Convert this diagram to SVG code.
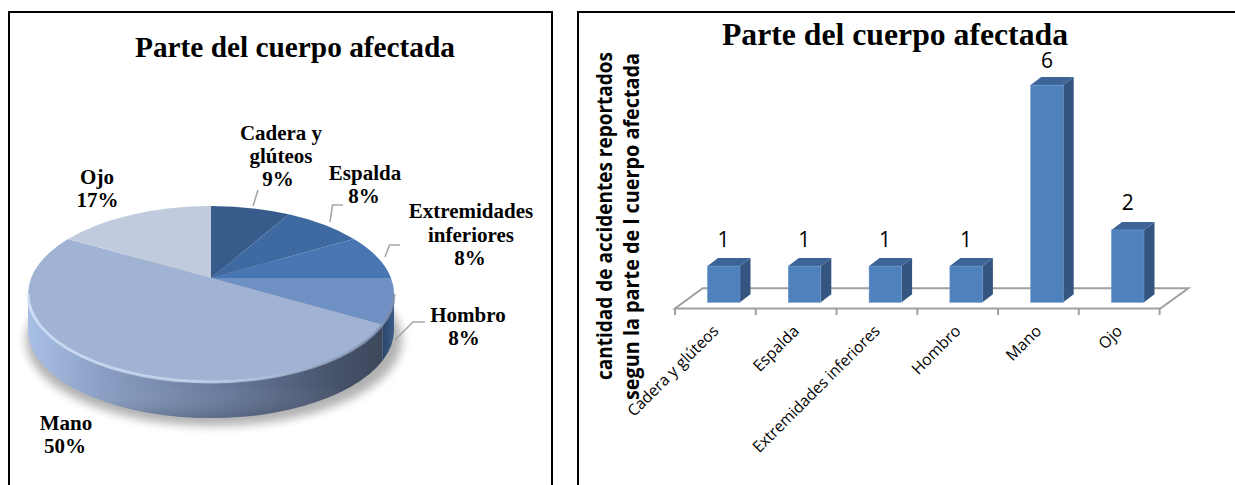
<svg xmlns="http://www.w3.org/2000/svg" width="1235" height="485" viewBox="0 0 1235 485">
<style>
.frame{fill:none;stroke:#000;stroke-width:2}
.ttl{font-family:"Liberation Serif","Times New Roman",serif;font-weight:bold;fill:#000;text-anchor:middle}
.plbl{font-family:"Liberation Serif","Times New Roman",serif;font-weight:bold;font-size:21px;fill:#000;text-anchor:middle}
.lead{fill:none;stroke:#a6a6a6;stroke-width:1.6}
.front{fill:#4f81bd;stroke:#6d98cc;stroke-width:0.6}
.side{fill:#34557f}
.top{fill:#3d6496}
.val{font-family:"Open Sans","Liberation Sans",sans-serif;font-size:21px;fill:#000;text-anchor:middle}
.cat{font-family:"Open Sans","Liberation Sans",sans-serif;font-size:15.8px;fill:#000;text-anchor:end}
.axt{font-family:"Open Sans","Liberation Sans",sans-serif;font-weight:bold;font-size:21px;fill:#000}
.floor{fill:#fff;stroke:#a0a0a0;stroke-width:2}
.tick{stroke:#a0a0a0;stroke-width:2}
</style>
<defs>
<filter id="blur" x="-20%" y="-30%" width="140%" height="160%"><feGaussianBlur stdDeviation="5"/></filter>
<linearGradient id="manoSide" x1="28" y1="0" x2="394" y2="0" gradientUnits="userSpaceOnUse">
<stop offset="0" stop-color="#a9c0e6"/>
<stop offset="0.2" stop-color="#8a9fc3"/>
<stop offset="0.55" stop-color="#66789a"/>
<stop offset="0.85" stop-color="#465269"/>
<stop offset="1" stop-color="#3a4558"/>
</linearGradient>
<linearGradient id="hombroSide" x1="382" y1="0" x2="394" y2="0" gradientUnits="userSpaceOnUse">
<stop offset="0" stop-color="#2c4468"/>
<stop offset="1" stop-color="#3b5c88"/>
</linearGradient>
<linearGradient id="rim" x1="28" y1="0" x2="394" y2="0" gradientUnits="userSpaceOnUse">
<stop offset="0" stop-color="#d6e4fb"/>
<stop offset="0.5" stop-color="#c5d6f0"/>
<stop offset="1" stop-color="#7d8eae"/>
</linearGradient>
<linearGradient id="sideShade" x1="0" y1="294" x2="0" y2="418" gradientUnits="userSpaceOnUse">
<stop offset="0" stop-color="#ffffff" stop-opacity="0"/>
<stop offset="0.75" stop-color="#ffffff" stop-opacity="0"/>
<stop offset="1" stop-color="#000000" stop-opacity="0.15"/>
</linearGradient>
</defs>
<rect width="1235" height="485" fill="#fff"/>

<g id="left-chart">
<path class="frame" d="M9,490 V12 H552 V490"/>
<text class="ttl" x="295" y="57" font-size="29.5" textLength="320" lengthAdjust="spacingAndGlyphs">Parte del cuerpo afectada</text>
<ellipse cx="214" cy="340" rx="188" ry="86" fill="#000" opacity="0.3" filter="url(#blur)"/>
<path d="M28,294 A183,88 0 0,0 382.5,324.8 L382.5,360.8 A183,88 0 0,1 28,330 Z" fill="url(#manoSide)"/>
<path d="M28,294 A183,88 0 0,0 382.5,324.8 L382.5,360.8 A183,88 0 0,1 28,330 Z" fill="url(#sideShade)"/>
<path d="M382.5,324.8 A183,88 0 0,0 394,294 L394,330 A183,88 0 0,1 382.5,360.8 Z" fill="url(#hombroSide)"/>
</g>

<g id="slice-cadera">
<path d="M211,278 L211,206 A183,88 0 0,1 288.8,214.3 Z" fill="#375b8b"/>
<text class="plbl" x="281" y="139.5">Cadera y</text>
<text class="plbl" x="281" y="162.8">glúteos</text>
<text class="plbl" x="278" y="186">9%</text>
</g>
<g id="slice-espalda">
<path d="M211,278 L288.8,214.3 A183,88 0 0,1 353.9,239 Z" fill="#3e69a1"/>
<text class="plbl" x="365" y="180">Espalda</text>
<text class="plbl" x="364" y="203.3">8%</text>
</g>
<g id="slice-extremidades">
<path d="M211,278 L353.9,239 A183,88 0 0,1 391,278 Z" fill="#4776b2"/>
<text class="plbl" x="471" y="218.3">Extremidades</text>
<text class="plbl" x="471" y="241.7">inferiores</text>
<text class="plbl" x="470" y="265">8%</text>
</g>
<g id="slice-hombro">
<path d="M211,278 L391,278 A183,88 0 0,1 382.5,324.8 Z" fill="#6f90c3"/>
<text class="plbl" x="468" y="321.7">Hombro</text>
<text class="plbl" x="464" y="345">8%</text>
</g>
<g id="slice-mano">
<path d="M211,278 L382.5,324.8 A183,88 0 1,1 68.1,239 Z" fill="#a0b3d4"/>
<text class="plbl" x="66" y="430">Mano</text>
<text class="plbl" x="65" y="453.3">50%</text>
</g>
<g id="slice-ojo">
<path d="M211,278 L68.1,239 A183,88 0 0,1 211,206 Z" fill="#c0cbdd"/>
<text class="plbl" x="97" y="184">Ojo</text>
<text class="plbl" x="97.5" y="207.3">17%</text>
</g>
<path d="M28,294 A183,88 0 0,0 394,294" fill="none" stroke="url(#rim)" stroke-width="3" opacity="0.8"/>

<g id="connectors">
<polyline class="lead" points="253,206 258,190"/>
<polyline class="lead" points="330,222 332.5,205 343,205"/>
<polyline class="lead" points="385,257 389.5,245 400,245"/>
<polyline class="lead" points="395,340 413,322 425,322"/>
</g>

<g id="right-chart">
<path class="frame" d="M578,490 V12 H1240"/>
<text class="ttl" x="895" y="45" font-size="32" textLength="346" lengthAdjust="spacingAndGlyphs">Parte del cuerpo afectada</text>
<text class="axt" transform="translate(612,380) rotate(-90)" textLength="328" lengthAdjust="spacingAndGlyphs">cantidad de accidentes reportados</text>
<text class="axt" transform="translate(639,400) rotate(-90)" textLength="347" lengthAdjust="spacingAndGlyphs">segun la parte de l cuerpo afectada</text>
<polygon class="floor" points="675,308.5 1160.3,308.5 1188.3,288.3 702.7,288.3"/>
<g>
<line class="tick" x1="675" y1="308.5" x2="675" y2="315"/>
<line class="tick" x1="755.8" y1="308.5" x2="755.8" y2="315"/>
<line class="tick" x1="836.5" y1="308.5" x2="836.5" y2="315"/>
<line class="tick" x1="917.3" y1="308.5" x2="917.3" y2="315"/>
<line class="tick" x1="998" y1="308.5" x2="998" y2="315"/>
<line class="tick" x1="1078.8" y1="308.5" x2="1078.8" y2="315"/>
<line class="tick" x1="1159.6" y1="308.5" x2="1159.6" y2="315"/>
</g>
</g>

<g id="bar-cadera">
<polygon class="side" points="740,266.1 750.5,258.1 750.5,294.3 740,302.3"/>
<polygon class="top" points="707.5,266.1 718,258.1 750.5,258.1 740,266.1"/>
<rect class="front" x="707.5" y="266.1" width="32.5" height="36.2"/>
<text class="val" x="723.5" y="247">1</text>
<text class="cat" transform="translate(719.5,332) rotate(-45)" textLength="121" lengthAdjust="spacingAndGlyphs">Cadera y glúteos</text>
</g>
<g id="bar-espalda">
<polygon class="side" points="820.8,266.1 831.3,258.1 831.3,294.3 820.8,302.3"/>
<polygon class="top" points="788.3,266.1 798.8,258.1 831.3,258.1 820.8,266.1"/>
<rect class="front" x="788.3" y="266.1" width="32.5" height="36.2"/>
<text class="val" x="804.3" y="247">1</text>
<text class="cat" transform="translate(800.1,332) rotate(-45)">Espalda</text>
</g>
<g id="bar-extremidades">
<polygon class="side" points="901.6,266.1 912.1,258.1 912.1,294.3 901.6,302.3"/>
<polygon class="top" points="869.1,266.1 879.6,258.1 912.1,258.1 901.6,266.1"/>
<rect class="front" x="869.1" y="266.1" width="32.5" height="36.2"/>
<text class="val" x="885.1" y="247">1</text>
<text class="cat" transform="translate(880.9,332) rotate(-45)" textLength="172" lengthAdjust="spacingAndGlyphs">Extremidades inferiores</text>
</g>
<g id="bar-hombro">
<polygon class="side" points="982.4,266.1 992.9,258.1 992.9,294.3 982.4,302.3"/>
<polygon class="top" points="949.9,266.1 960.4,258.1 992.9,258.1 982.4,266.1"/>
<rect class="front" x="949.9" y="266.1" width="32.5" height="36.2"/>
<text class="val" x="965.9" y="247">1</text>
<text class="cat" transform="translate(961.7,332) rotate(-45)">Hombro</text>
</g>
<g id="bar-mano">
<polygon class="side" points="1063.2,85.1 1073.7,77.1 1073.7,294.3 1063.2,302.3"/>
<polygon class="top" points="1030.7,85.1 1041.2,77.1 1073.7,77.1 1063.2,85.1"/>
<rect class="front" x="1030.7" y="85.1" width="32.5" height="217.2"/>
<text class="val" x="1047" y="68" font-size="20">6</text>
<text class="cat" transform="translate(1042.4,332) rotate(-45)">Mano</text>
</g>
<g id="bar-ojo">
<polygon class="side" points="1144,229.9 1154.5,221.9 1154.5,294.3 1144,302.3"/>
<polygon class="top" points="1111.5,229.9 1122,221.9 1154.5,221.9 1144,229.9"/>
<rect class="front" x="1111.5" y="229.9" width="32.5" height="72.4"/>
<text class="val" x="1127.7" y="210">2</text>
<text class="cat" transform="translate(1123.2,332) rotate(-45)">Ojo</text>
</g>
</svg>
